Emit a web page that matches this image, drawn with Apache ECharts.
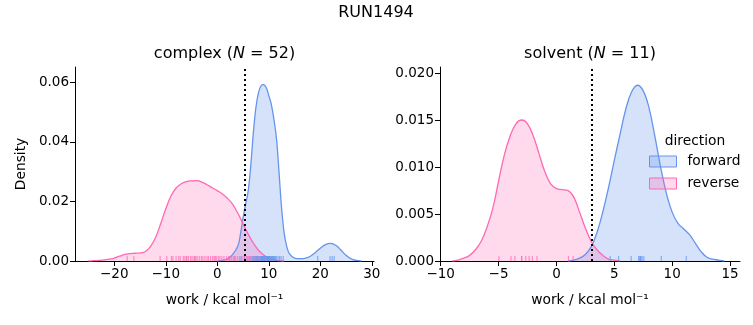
<!DOCTYPE html>
<html>
<head>
<meta charset="utf-8">
<script src="https://cdn.jsdelivr.net/npm/echarts@6/dist/echarts.min.js"></script>
<style>
html,body{margin:0;padding:0;background:#fff;}
#chart{width:753px;height:325px;}
</style>
</head>
<body>
<div id="chart"></div>
<script>
// ---- Data ----
const suptitle = 'RUN1494';
const panelNames = ['complex', 'solvent'];
const panelN = [52, 11];
const seriesNames = ['forward', 'reverse'];

// complex: KDE curves
const cFwdX = [0,1,2,3,4,4.5,5,5.5,6,6.5,7,7.5,8,8.5,9,9.5,10,10.5,11,11.5,12,12.5,13,13.5,14,15,16,17,18,19,20,21,22,23,24,25,26,27,28];
const cFwdY = [0,0.0002,0.0007,0.0022,0.0050,0.0090,0.0145,0.0190,0.0235,0.0320,0.0430,0.0515,0.0565,0.0588,0.0592,0.0582,0.0555,0.0525,0.0475,0.0410,0.0295,0.0175,0.0092,0.0048,0.0025,0.0010,0.0008,0.0009,0.0015,0.0028,0.0043,0.0055,0.0059,0.0053,0.0037,0.0019,0.0007,0.0002,0];
const cRevX = [-25,-24,-23,-22,-21,-20,-19,-18,-17,-16,-15,-14,-13,-12,-11,-10,-9,-8,-7,-6,-5,-4,-3,-2,-1,0,1,2,3,4,5,6,7,8,9,10,11,12,13];
const cRevY = [0,0.0001,0.0002,0.0004,0.0006,0.0010,0.0016,0.0022,0.0025,0.0026,0.0027,0.0031,0.0048,0.0078,0.0125,0.0175,0.0218,0.0245,0.0259,0.0266,0.0269,0.0270,0.0265,0.0256,0.0246,0.0236,0.0225,0.0210,0.0190,0.0160,0.0125,0.0090,0.0060,0.0036,0.0020,0.0010,0.0004,0.0001,0];
// complex: rug samples
const cFwdRug = [4.6,5.3,5.8,6.2,6.5,6.8,7.0,7.2,7.4,7.5,7.6,7.8,7.9,8.0,8.1,8.3,8.4,8.5,8.6,8.7,8.8,8.9,9.0,9.1,9.2,9.3,9.4,9.5,9.6,9.7,9.8,9.9,10.0,10.1,10.2,10.3,10.5,10.6,10.7,10.9,11.0,11.1,11.3,11.5,11.8,12.1,12.4,12.8,19.5,21.9,22.3,22.7];
const cRevRug = [-17.5,-16.2,-11.1,-9.8,-8.9,-8.6,-8.0,-7.5,-7.2,-6.6,-6.3,-6.0,-5.9,-5.6,-5.2,-4.9,-4.5,-4.4,-4.2,-3.9,-3.5,-3.1,-2.8,-2.4,-2.0,-1.7,-1.3,-0.9,-0.6,-0.4,-0.2,0.2,0.5,0.9,1.3,1.8,2.2,2.4,2.7,3.1,3.3,3.5,3.9,4.3,4.8,5.2,5.6,6.0,6.5,7.0,7.4,7.9];

// solvent: KDE curves
const sFwdX = [1,1.5,2,2.5,3,3.5,4,4.5,5,5.5,6,6.5,7,7.5,8,8.5,9,9.5,10,10.5,11,11.5,12,12.5,13,13.5,14,14.5];
const sFwdY = [0,0.0001,0.0003,0.0007,0.0015,0.0030,0.0052,0.0078,0.0107,0.0135,0.0162,0.0180,0.0187,0.0181,0.0163,0.0133,0.0100,0.0072,0.0052,0.0040,0.0034,0.0028,0.0019,0.0010,0.0004,0.0002,0.0001,0];
const sRevX = [-9,-8.5,-8,-7.5,-7,-6.5,-6,-5.5,-5,-4.5,-4,-3.5,-3,-2.5,-2,-1.5,-1,-0.5,0,0.5,1,1.5,2,2.5,3,3.5,4,4.5,5,5.5];
const sRevY = [0,0.0001,0.0003,0.0006,0.0012,0.0021,0.0036,0.0056,0.0085,0.0113,0.0133,0.0146,0.0150,0.0146,0.0133,0.0114,0.0095,0.0082,0.0077,0.0076,0.0075,0.0068,0.0052,0.0035,0.0021,0.0012,0.0006,0.0002,0.0001,0];
// solvent: rug samples
const sFwdRug = [4.64,5.37,6.46,7.1,7.2,7.25,7.3,7.4,7.55,9.06,11.22];
const sRevRug = [-4.97,-3.93,-3.59,-3.01,-3.0,-2.65,-2.36,-2.08,-1.68,1.04,1.44];

// vertical dotted reference lines
const refLines = [5.24, 3.09];

// axes ranges and ticks
const xMin = [-27.63, -10.06];
const xMax = [30.43, 15.86];
const xTicks = [[-20,-10,0,10,20,30], [-10,-5,0,5,10,15]];
const yMax = [0.0651, 0.02064];
const yTicks = [[0,0.02,0.04,0.06], [0,0.005,0.010,0.015,0.020]];
const yDecimals = [2, 3];

// ---- Chart ----
const FONT = 'DejaVu Sans';
const BLUE = '#6495ED', PINK = '#FF69B4';
const BLUE_FILL = 'rgba(100,149,237,0.27)', PINK_FILL = 'rgba(255,105,180,0.25)';
const grids = [
  {left: 75, top: 67, width: 299, height: 194},
  {left: 440, top: 67, width: 300, height: 194}
];
const zip = (xs, ys) => xs.map((x, i) => [x, ys[i]]);
const minus = s => String(s).replace('-', '\u2212');

const xAxes = [0,1].map(i => ({
  type: 'value', gridIndex: i, min: xMin[i], max: xMax[i],
  axisLine: {show: true, onZero: false, lineStyle: {color: '#000', width: 1}},
  axisTick: {show: true, customValues: xTicks[i], length: 5, lineStyle: {color: '#000', width: 1}},
  axisLabel: {customValues: xTicks[i], formatter: v => minus(v), color: '#000', fontFamily: FONT, fontSize: 13.5, margin: 6},
  splitLine: {show: false},
  name: 'work / kcal mol\u207B\u00B9', nameLocation: 'middle', nameGap: 32,
  nameTextStyle: {color: '#000', fontFamily: FONT, fontSize: 13.8}
}));
const yAxes = [0,1].map(i => ({
  type: 'value', gridIndex: i, min: 0, max: yMax[i],
  axisLine: {show: true, onZero: false, lineStyle: {color: '#000', width: 1}},
  axisTick: {show: true, customValues: yTicks[i], length: 5, lineStyle: {color: '#000', width: 1}},
  axisLabel: {customValues: yTicks[i], formatter: v => Number(v).toFixed(yDecimals[i]), color: '#000', fontFamily: FONT, fontSize: 13.5, margin: 6},
  splitLine: {show: false},
  name: i === 0 ? 'Density' : '', nameLocation: 'middle', nameGap: 47,
  nameTextStyle: {color: '#000', fontFamily: FONT, fontSize: 13.8}
}));

function kde(name, gi, xs, ys, color, fill, ref) {
  const s = {
    type: 'line', name: name, xAxisIndex: gi, yAxisIndex: gi,
    data: zip(xs, ys), smooth: 0.4, showSymbol: false, symbol: 'none',
    lineStyle: {color: color, width: 1.3}, itemStyle: {color: color},
    areaStyle: {color: fill, origin: 'start', opacity: 1}, silent: true, z: 2
  };
  if (ref !== undefined) {
    s.markLine = {
      silent: true, symbol: 'none', label: {show: false},
      lineStyle: {color: '#000', type: [2, 3], width: 2},
      data: [{xAxis: ref}], z: 5
    };
  }
  return s;
}
function rug(name, gi, xs, color) {
  return {
    type: 'scatter', name: name, xAxisIndex: gi, yAxisIndex: gi,
    data: xs.map(x => [x, 0]), symbol: 'rect', symbolSize: [1.2, 5], symbolOffset: [0, -2.5],
    itemStyle: {color: color, opacity: 0.7}, silent: true, z: 3
  };
}

const series = [
  kde('forward', 0, cFwdX, cFwdY, BLUE, BLUE_FILL),
  kde('reverse', 0, cRevX, cRevY, PINK, PINK_FILL, refLines[0]),
  kde('forward', 1, sFwdX, sFwdY, BLUE, BLUE_FILL),
  kde('reverse', 1, sRevX, sRevY, PINK, PINK_FILL, refLines[1]),
  rug('forward', 0, cFwdRug, BLUE),
  rug('reverse', 0, cRevRug, PINK),
  rug('forward', 1, sFwdRug, BLUE),
  rug('reverse', 1, sRevRug, PINK)
];

const titleText = (i) => ({
  type: 'text', x: grids[i].left + grids[i].width / 2, y: 54,
  style: {
    text: '{n|' + panelNames[i] + ' (}{i|N}{n| = ' + panelN[i] + ')}',
    align: 'center', verticalAlign: 'middle',
    rich: {
      n: {fontFamily: FONT, fontSize: 16, fill: '#000'},
      i: {fontFamily: FONT, fontSize: 16, fontStyle: 'italic', fill: '#000'}
    }
  }
});

const chart = echarts.init(document.getElementById('chart'), null, {renderer: 'canvas'});
chart.setOption({
  animation: false,
  backgroundColor: '#fff',
  grid: grids,
  xAxis: xAxes,
  yAxis: yAxes,
  legend: {
    orient: 'vertical', left: 649, top: 154, padding: 0,
    itemWidth: 27, itemHeight: 11, itemGap: 7,
    textStyle: {color: '#000', fontFamily: FONT, fontSize: 13.8, lineHeight: 15, padding: [0, 0, 0, 6]},
    data: [
      {name: 'forward', icon: 'rect', itemStyle: {color: BLUE_FILL, borderColor: BLUE, borderWidth: 1}},
      {name: 'reverse', icon: 'rect', itemStyle: {color: PINK_FILL, borderColor: PINK, borderWidth: 1}}
    ],
    selectedMode: false
  },
  graphic: [
    {type: 'text', x: 376, y: 13, style: {text: suptitle, align: 'center', verticalAlign: 'middle', fontFamily: FONT, fontSize: 16, fill: '#000'}},
    titleText(0), titleText(1),
    {type: 'text', x: 695, y: 141, style: {text: 'direction', align: 'center', verticalAlign: 'middle', fontFamily: FONT, fontSize: 13.8, fill: '#000'}}
  ],
  series: series
});
</script>
</body>
</html>
